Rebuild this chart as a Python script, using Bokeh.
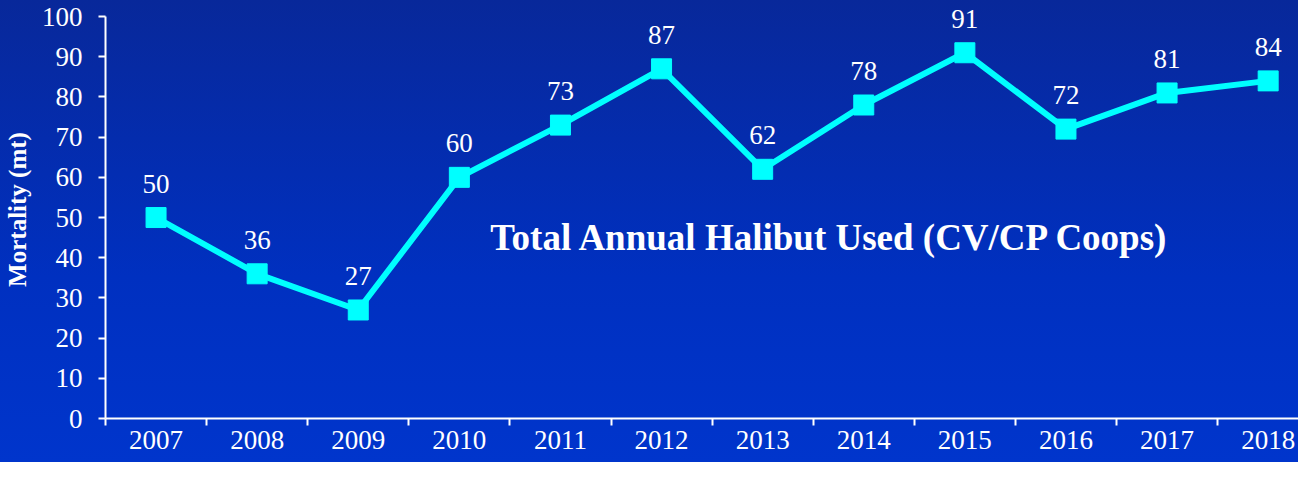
from bokeh.plotting import figure
from bokeh.models import FixedTicker, Range1d, ColumnDataSource, Label, LabelSet
from bokeh.embed import file_html
from bokeh.resources import INLINE

years = [2007, 2008, 2009, 2010, 2011, 2012, 2013, 2014, 2015, 2016, 2017, 2018]
mortality = [50, 36, 27, 60, 73, 87, 62, 78, 91, 72, 81, 84]
labels = [str(v) for v in mortality]
y_ticks = [0, 10, 20, 30, 40, 50, 60, 70, 80, 90, 100]
title_text = "Total Annual Halibut Used (CV/CP Coops)"
y_label = "Mortality (mt)"

FONT = "Liberation Serif"
WHITE = "#ffffff"
CYAN = "#00ffff"

src = ColumnDataSource(dict(x=years, y=mortality, label=labels))

p = figure(width=1298, height=462, output_backend="svg", toolbar_location=None,
           x_range=Range1d(years[0] - 0.5, years[-1] + 0.3),
           y_range=Range1d(0, 104))
p.min_border_left = 100
p.min_border_right = 0
p.min_border_top = 0
p.min_border_bottom = 44
p.background_fill_alpha = 0
p.border_fill_alpha = 0
p.outline_line_color = None
p.styles = {"background": "linear-gradient(180deg, #08289a 0%, #0030c0 60%, #0035cc 100%)"}
p.xgrid.visible = False
p.ygrid.visible = False

p.line("x", "y", source=src, line_color=CYAN, line_width=6)
p.scatter("x", "y", source=src, marker="square", size=20, fill_color=CYAN, line_color=CYAN)
p.add_layout(LabelSet(x="x", y="y", text="label", source=src, text_align="center",
                      text_baseline="alphabetic", y_offset=25, text_color=WHITE,
                      text_font=FONT, text_font_size="27px"))

p.add_layout(Label(x=2013.67, y=45, text=title_text, text_align="center", text_baseline="middle",
                   text_color=WHITE, text_font=FONT, text_font_size="37px", text_font_style="bold"))

xa = p.xaxis[0]
xa.ticker = FixedTicker(ticks=years, minor_ticks=[y - 0.5 for y in years] + [years[-1] + 0.5])
xa.major_tick_out = 0
xa.major_tick_in = 0
xa.minor_tick_out = 7
xa.minor_tick_in = 0
xa.minor_tick_line_color = WHITE
xa.minor_tick_line_width = 2
xa.axis_line_color = WHITE
xa.axis_line_width = 2
xa.major_label_text_color = WHITE
xa.major_label_text_font = FONT
xa.major_label_text_font_size = "27px"
xa.major_label_standoff = 5

ya = p.yaxis[0]
ya.bounds = (0, 100)
ya.ticker = FixedTicker(ticks=y_ticks)
ya.minor_tick_line_color = None
ya.major_tick_out = 7
ya.major_tick_in = 0
ya.major_tick_line_color = WHITE
ya.major_tick_line_width = 2
ya.axis_line_color = WHITE
ya.axis_line_width = 2
ya.major_label_text_color = WHITE
ya.major_label_text_font = FONT
ya.major_label_text_font_size = "27px"
ya.major_label_standoff = 16
ya.axis_label = y_label
ya.axis_label_text_color = WHITE
ya.axis_label_text_font = FONT
ya.axis_label_text_font_size = "25px"
ya.axis_label_text_font_style = "bold"
ya.axis_label_standoff = 8

open("out.html", "w").write(file_html(p, INLINE))
